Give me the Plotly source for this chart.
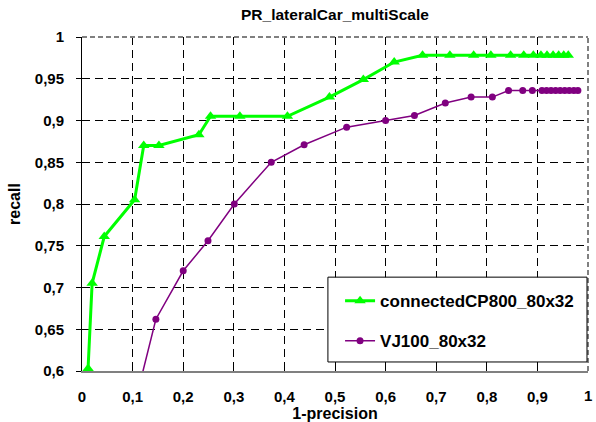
import plotly.graph_objects as go

# connectedCP800_80x32
cp_x = [0.012, 0.020, 0.044, 0.104, 0.122, 0.152, 0.231, 0.254, 0.312, 0.406,
        0.489, 0.556, 0.617, 0.673, 0.727, 0.774, 0.808, 0.847, 0.873, 0.892,
        0.907, 0.919, 0.931, 0.942, 0.952, 0.961]
cp_y = [0.603, 0.705, 0.761, 0.805, 0.870, 0.870, 0.883, 0.905, 0.905, 0.905,
        0.928, 0.949, 0.970, 0.978, 0.978, 0.978, 0.978, 0.978, 0.978, 0.978,
        0.978, 0.978, 0.978, 0.978, 0.978, 0.978]

# VJ100_80x32
vj_x = [0.100, 0.146, 0.200, 0.249, 0.301, 0.374, 0.439, 0.523, 0.600, 0.657,
        0.718, 0.769, 0.811, 0.843, 0.871, 0.890, 0.909, 0.918, 0.927, 0.936,
        0.945, 0.954, 0.963, 0.972, 0.980]
vj_y = [0.550, 0.662, 0.720, 0.756, 0.800, 0.850, 0.871, 0.892, 0.900, 0.906,
        0.921, 0.928, 0.928, 0.936, 0.936, 0.936, 0.936, 0.936, 0.936, 0.936,
        0.936, 0.936, 0.936, 0.936, 0.936]

x_ticks = [0, 0.1, 0.2, 0.3, 0.4, 0.5, 0.6, 0.7, 0.8, 0.9, 1.0]
y_ticks = [0.6, 0.65, 0.7, 0.75, 0.8, 0.85, 0.9, 0.95, 1.0]

FONT = "Liberation Sans, Arial, sans-serif"
TICKFONT = dict(family=FONT, size=15, weight="bold", color="black")

fig = go.Figure()
fig.add_trace(go.Scatter(
    x=cp_x, y=cp_y, mode="lines+markers", name="connectedCP800_80x32",
    line=dict(color="#00FF00", width=3),
    marker=dict(symbol="triangle-up", size=10, color="#00FF00"),
    legendgroup="a", cliponaxis=True))
fig.add_trace(go.Scatter(
    x=vj_x, y=vj_y, mode="lines+markers", name="VJ100_80x32",
    line=dict(color="#800080", width=1.5),
    marker=dict(symbol="circle", size=7, color="#800080"),
    legendgroup="b", cliponaxis=True))

# top and right plot border (gray dashed)
fig.add_shape(type="line", xref="paper", yref="paper", x0=0, x1=1, y0=1, y1=1,
              line=dict(color="#808080", width=2, dash="5px,3px"), layer="above")
fig.add_shape(type="line", xref="paper", yref="paper", x0=1, x1=1, y0=0, y1=1,
              line=dict(color="#808080", width=2, dash="5px,3px"), layer="above")

# legend frame
fig.add_shape(type="rect", xref="paper", yref="paper",
              x0=0.486, x1=0.998, y0=0.027, y1=0.281,
              line=dict(color="black", width=1), fillcolor="white",
              layer="above")

# last x tick label at the right end of the axis
fig.add_annotation(x=x_ticks[-1], xref="paper", y=-0.072, yref="paper",
                   text=f"{x_ticks[-1]:g}".replace(".", ","), showarrow=False,
                   xanchor="center", yanchor="middle", font=TICKFONT)

fig.update_layout(
    width=596, height=422,
    margin=dict(l=82, r=8, t=37, b=51, autoexpand=False),
    paper_bgcolor="white", plot_bgcolor="white",
    separators=",.",
    font=dict(family=FONT, color="black", size=13),
    title=dict(text="PR_lateralCar_multiScale", x=0.562, xanchor="center",
               y=0.9645, yanchor="middle",
               font=dict(family=FONT, size=15.5, weight="bold", color="black")),
    showlegend=True,
    legend=dict(x=0.51, y=0.263, xanchor="left", yanchor="top",
                bgcolor="rgba(0,0,0,0)", borderwidth=0,
                font=dict(family=FONT, size=17, weight="bold", color="black"),
                traceorder="grouped", tracegroupgap=15, itemwidth=30),
)
fig.update_xaxes(
    range=[0, 1], tickvals=x_ticks[:-1], showgrid=True, automargin=False,
    gridcolor="black", griddash="8px,5px", gridwidth=1,
    showline=True, linecolor="#808080", linewidth=2,
    ticks="inside", ticklen=5, tickcolor="black", ticklabelstandoff=11,
    ticklabeloverflow="allow",
    tickfont=TICKFONT,
    title=dict(text="1-precision", standoff=0,
               font=dict(family=FONT, size=16, weight="bold", color="black")),
    zeroline=False)
fig.update_yaxes(
    range=[0.6, 1], tickvals=y_ticks, showgrid=True, automargin=False,
    gridcolor="black", griddash="8px,5px", gridwidth=1,
    showline=True, linecolor="black", linewidth=1,
    ticks="outside", ticklen=5, tickcolor="black", ticklabelstandoff=9,
    ticklabeloverflow="allow",
    tickfont=TICKFONT,
    title=dict(text="recall", standoff=10,
               font=dict(family=FONT, size=16, weight="bold", color="black")),
    zeroline=False)

fig.write_html(
    "out.html", config={"displayModeBar": False},
    post_script=("document.documentElement.style.overflow='hidden';"
                 "document.body.style.overflow='hidden';"
                 "document.body.style.margin='0';document.body.style.padding='0';"))
